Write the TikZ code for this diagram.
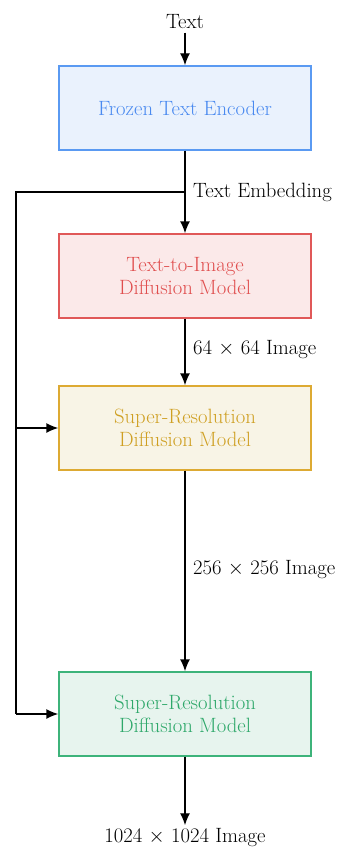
\documentclass[tikz,border=0pt]{standalone}
\usetikzlibrary{arrows.meta}
\definecolor{bluefill}{HTML}{EAF2FD}
\definecolor{blueline}{HTML}{5A9AF2}
\definecolor{bluetext}{HTML}{4A8AF0}
\definecolor{redfill}{HTML}{FBE9E9}
\definecolor{redline}{HTML}{E05858}
\definecolor{redtext}{HTML}{E04E4E}
\definecolor{yelfill}{HTML}{F8F4E6}
\definecolor{yelline}{HTML}{DDAA33}
\definecolor{yeltext}{HTML}{CF9F22}
\definecolor{grnfill}{HTML}{E7F4EE}
\definecolor{grnline}{HTML}{3DB37A}
\definecolor{grntext}{HTML}{2EA86A}
\begin{document}
\begin{tikzpicture}[x=1pt,y=-1pt,
  font=\fontsize{20.7}{23}\selectfont,
  blk/.style={draw, line width=1.4pt, minimum width=252pt, minimum height=84pt, align=center, inner sep=0pt},
  arr/.style={line width=1.4pt, -{Latex[length=12pt,width=10pt]}},
  conn/.style={line width=1.4pt},
  lbl/.style={anchor=west, inner sep=0pt}]
\useasboundingbox (0,0) rectangle (342,848);
\node (txt) at (185,22) {Text};
\node[blk, fill=bluefill, draw=blueline, text=bluetext] (enc) at (185,108) {Frozen Text Encoder};
\node[blk, fill=redfill, draw=redline, text=redtext] (t2i) at (185,276) {Text-to-Image\\Diffusion Model};
\node[blk, fill=yelfill, draw=yelline, text=yeltext] (sr1) at (185,428) {Super-Resolution\\Diffusion Model};
\node[blk, fill=grnfill, draw=grnline, text=grntext] (sr2) at (185,714) {Super-Resolution\\Diffusion Model};
\node (out) at (185,838) {1024 $\times$ 1024 Image};
\coordinate (br) at (185,192);
\coordinate (lt) at (16,192);
\coordinate (l1) at (16,428);
\coordinate (l2) at (16,714);
\draw[arr] (txt) -- (enc);
\draw[arr] (enc) -- (t2i);
\draw[arr] (t2i) -- (sr1);
\draw[arr] (sr1) -- (sr2);
\draw[arr] (sr2) -- (out);
\draw[conn] (br) -- (lt) -- (l2);
\draw[arr] (l1) -- (sr1.west);
\draw[arr] (l2) -- (sr2.west);
\node[lbl] (le) at (193,192) {Text Embedding};
\node[lbl] (l64) at (193,350) {64 $\times$ 64 Image};
\node[lbl] (l256) at (193,570) {256 $\times$ 256 Image};
\end{tikzpicture}
\end{document}
